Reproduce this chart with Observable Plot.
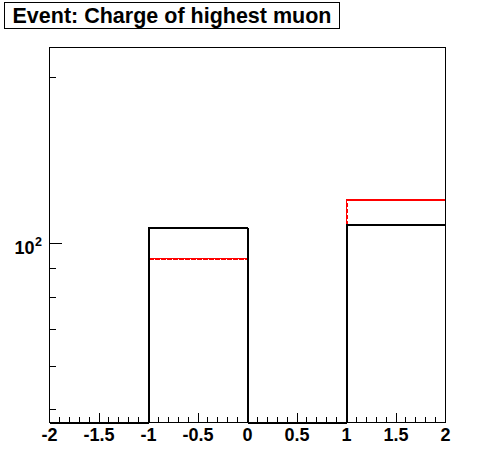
<!DOCTYPE html>
<html>
<head>
<meta charset="utf-8">
<script src="https://cdn.jsdelivr.net/npm/d3@7"></script>
<script src="https://cdn.jsdelivr.net/npm/@observablehq/plot@0.6"></script>
<style>
  body { margin: 0; background: #fff; }
  #wrap { position: relative; width: 496px; height: 472px; }
  #title {
    position: absolute; left: 4px; top: 2px; width: 334px; height: 25px;
    border: 1px solid #000; background: #fff;
    font: bold 21.5px "Liberation Sans", Arial, Helvetica, sans-serif;
    line-height: 26px; text-align: center; color: #000;
  }
</style>
</head>
<body>
<div id="wrap"><div id="title">Event: Charge of highest muon</div></div>
<script>
const titleText = "Event: Charge of highest muon";
// bin lower edges (width 1) and counts
const binEdges = [-2, -1, 0, 1, 2];
const blackCounts = [0, 107, 0, 108];
const redCounts = [0, 94, 0, 120];

const xTickLabels = ["-2", "-1.5", "-1", "-0.5", "0", "0.5", "1", "1.5", "2"];
const xMajorTicks = [-2, -1.5, -1, -0.5, 0, 0.5, 1, 1.5, 2];
const xMinorTicks = [-1.9,-1.8,-1.7,-1.6,-1.4,-1.3,-1.2,-1.1,-0.9,-0.8,-0.7,-0.6,-0.4,-0.3,-0.2,-0.1,0.1,0.2,0.3,0.4,0.6,0.7,0.8,0.9,1.1,1.2,1.3,1.4,1.6,1.7,1.8,1.9];
const yMajorTicks = [100];
const yMinorTicks = [50, 60, 70, 80, 90, 200];
const yTickBase = ["10"];
const yTickExp = ["2"];

const yDomain = [47.4, 227];
const yMin = yDomain[0];

function stepPoints(counts) {
  const pts = counts.map((c, i) => ({x: binEdges[i], y: c}));
  pts.push({x: binEdges[binEdges.length - 1], y: counts[counts.length - 1]});
  return pts;
}

const font = '"Liberation Sans", Arial, Helvetica, sans-serif';
const tickShape = { draw(ctx, l) { ctx.moveTo(0, 0); ctx.lineTo(0, -l); } };

const chart = Plot.plot({
  width: 496,
  height: 472,
  marginLeft: 49,
  marginRight: 51,
  marginTop: 47,
  marginBottom: 50,
  style: { background: "#fff", fontFamily: font },
  x: { domain: [-2, 2], axis: null },
  y: { type: "log", domain: yDomain, axis: null },
  marks: [
    Plot.line(stepPoints(redCounts), {
      x: "x", y: d => Math.max(d.y, yMin), curve: "step-after",
      stroke: "#ff0000", strokeWidth: 2, strokeDasharray: "4,2",
      shapeRendering: "crispEdges"
    }),
    Plot.line(stepPoints(blackCounts), {
      x: "x", y: d => Math.max(d.y, yMin), curve: "step-after",
      stroke: "#000", strokeWidth: 2, shapeRendering: "crispEdges"
    }),
    Plot.frame({ stroke: "#000", strokeWidth: 1, shapeRendering: "crispEdges" }),
    // x ticks (inward)
    Plot.vector(xMajorTicks, { x: d => d, frameAnchor: "bottom", length: 10, rotate: 0, anchor: "start", shape: tickShape, stroke: "#000", strokeWidth: 1, shapeRendering: "crispEdges" }),
    Plot.vector(xMinorTicks, { x: d => d, frameAnchor: "bottom", length: 5, rotate: 0, anchor: "start", shape: tickShape, stroke: "#000", strokeWidth: 1, shapeRendering: "crispEdges" }),
    // y ticks (inward)
    Plot.vector(yMajorTicks, { y: d => d, frameAnchor: "left", length: 12, rotate: 90, anchor: "start", shape: tickShape, stroke: "#000", strokeWidth: 1, shapeRendering: "crispEdges" }),
    Plot.vector(yMinorTicks, { y: d => d, frameAnchor: "left", length: 6, rotate: 90, anchor: "start", shape: tickShape, stroke: "#000", strokeWidth: 1, shapeRendering: "crispEdges" }),
    // x tick labels
    Plot.text(xTickLabels, {
      x: (d, i) => xMajorTicks[i], text: d => d, frameAnchor: "bottom",
      lineAnchor: "top", dy: 5.5, fontSize: 18, fontWeight: "bold", fill: "#000"
    }),
    // y tick labels 10^2
    Plot.text(yTickBase, {
      y: (d, i) => yMajorTicks[i], text: d => d, frameAnchor: "left",
      textAnchor: "end", lineAnchor: "bottom", dx: -15, dy: 10, fontSize: 18, fontWeight: "bold", fill: "#000"
    }),
    Plot.text(yTickExp, {
      y: (d, i) => yMajorTicks[i], text: d => d, frameAnchor: "left",
      textAnchor: "start", lineAnchor: "bottom", dx: -14.5, dy: 2, fontSize: 12.5, fontWeight: "bold", fill: "#000"
    })
  ]
});
document.getElementById("wrap").insertBefore(chart, document.getElementById("title"));
</script>
</body>
</html>
